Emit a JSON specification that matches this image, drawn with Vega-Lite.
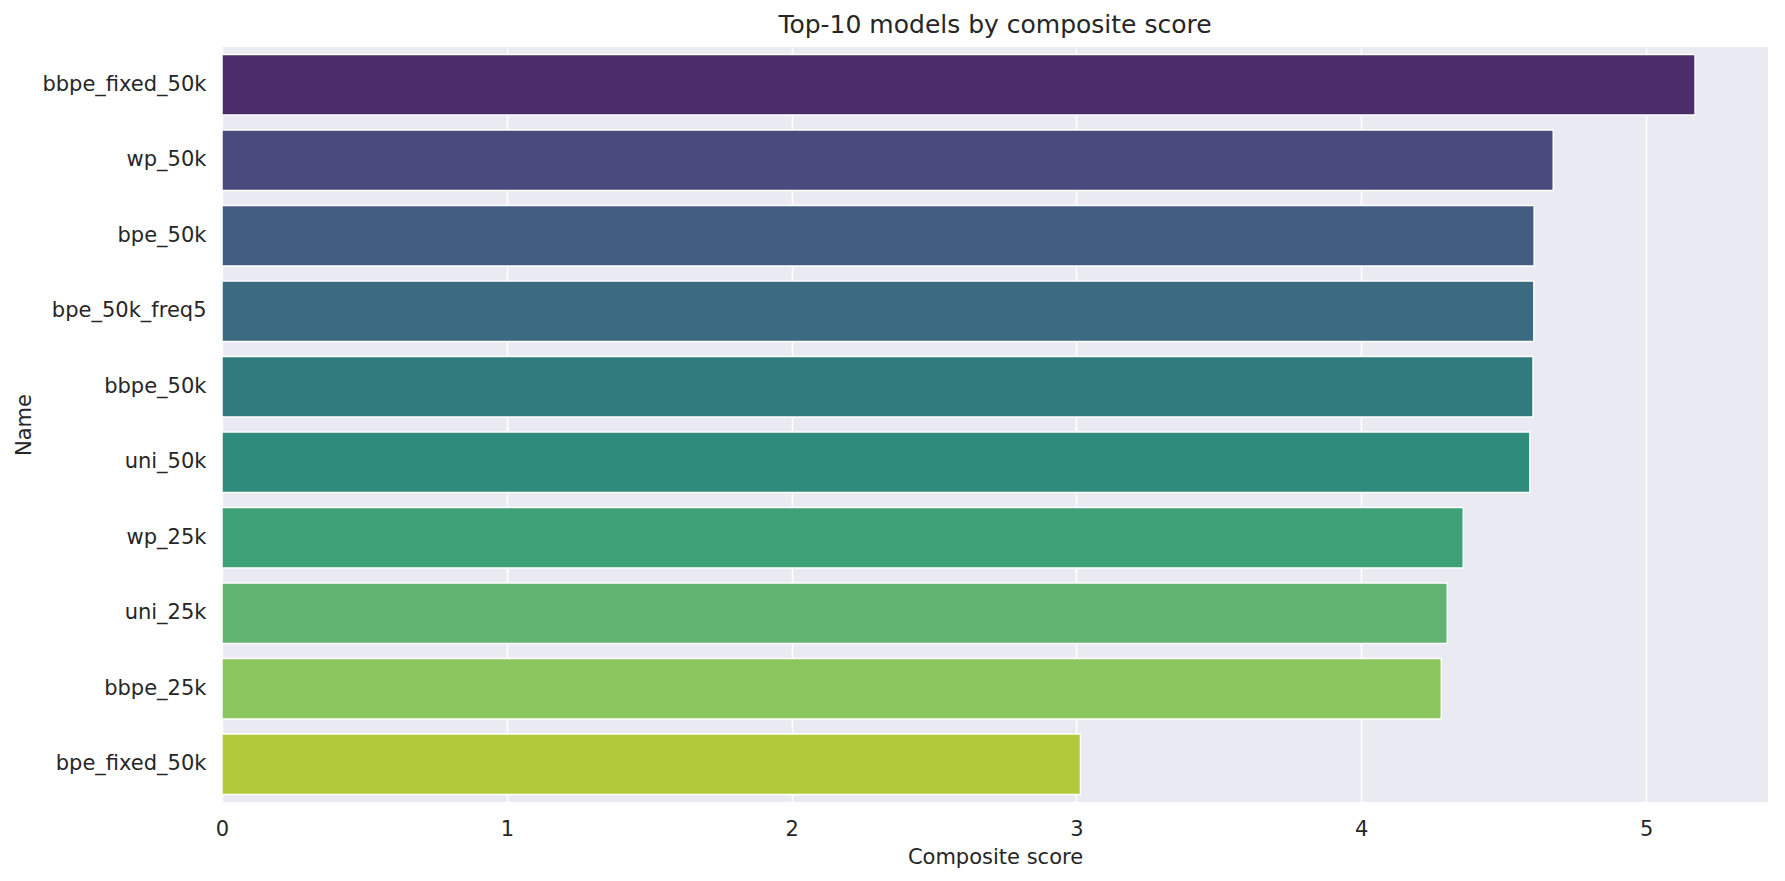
{
  "$schema": "https://vega.github.io/schema/vega-lite/v6.json",
  "autosize": "none",
  "width": 1546,
  "height": 755,
  "padding": {"left": 222, "top": 47, "right": 17, "bottom": 79},
  "background": "white",
  "config": {
    "font": "DejaVu Sans",
    "view": {"fill": "#eaeaf2", "stroke": null}
  },
  "title": {
    "text": "Top-10 models by composite score",
    "fontSize": 25,
    "fontWeight": "normal",
    "color": "#262626",
    "offset": 9
  },
  "data": {
    "values": [
      {"name": "bbpe_fixed_50k", "score": 5.172},
      {"name": "wp_50k", "score": 4.674},
      {"name": "bpe_50k", "score": 4.607},
      {"name": "bpe_50k_freq5", "score": 4.606},
      {"name": "bbpe_50k", "score": 4.603},
      {"name": "uni_50k", "score": 4.592},
      {"name": "wp_25k", "score": 4.358},
      {"name": "uni_25k", "score": 4.302},
      {"name": "bbpe_25k", "score": 4.281},
      {"name": "bpe_fixed_50k", "score": 3.014}
    ]
  },
  "mark": {"type": "bar", "stroke": "white", "strokeWidth": 1.5},
  "encoding": {
    "y": {
      "field": "name",
      "type": "nominal",
      "sort": null,
      "title": "Name",
      "scale": {"paddingInner": 0.2, "paddingOuter": 0.1},
      "axis": {
        "ticks": false,
        "domain": false,
        "grid": false,
        "labelFontSize": 21,
        "labelColor": "#262626",
        "labelPadding": 16,
        "titleFontSize": 21,
        "titleFontWeight": "normal",
        "titleColor": "#262626",
        "titlePadding": 7
      }
    },
    "x": {
      "field": "score",
      "type": "quantitative",
      "title": "Composite score",
      "scale": {"domain": [0, 5.428], "nice": false},
      "axis": {
        "values": [0, 1, 2, 3, 4, 5],
        "ticks": false,
        "domain": false,
        "grid": true,
        "gridColor": "white",
        "gridWidth": 1.5,
        "labelFlush": false,
        "labelFontSize": 21,
        "labelColor": "#262626",
        "labelPadding": 16,
        "titleFontSize": 21,
        "titleFontWeight": "normal",
        "titleColor": "#262626",
        "titlePadding": 7
      }
    },
    "color": {
      "field": "name",
      "type": "nominal",
      "sort": null,
      "legend": null,
      "scale": {
        "domain": ["bbpe_fixed_50k", "wp_50k", "bpe_50k", "bpe_50k_freq5", "bbpe_50k", "uni_50k", "wp_25k", "uni_25k", "bbpe_25k", "bpe_fixed_50k"],
        "range": ["#4a2d69", "#4a4a7d", "#435c82", "#3a6b80", "#317a7e", "#2f8b7c", "#3da077", "#61b570", "#8bc55d", "#b1c83b"]
      }
    }
  }
}
